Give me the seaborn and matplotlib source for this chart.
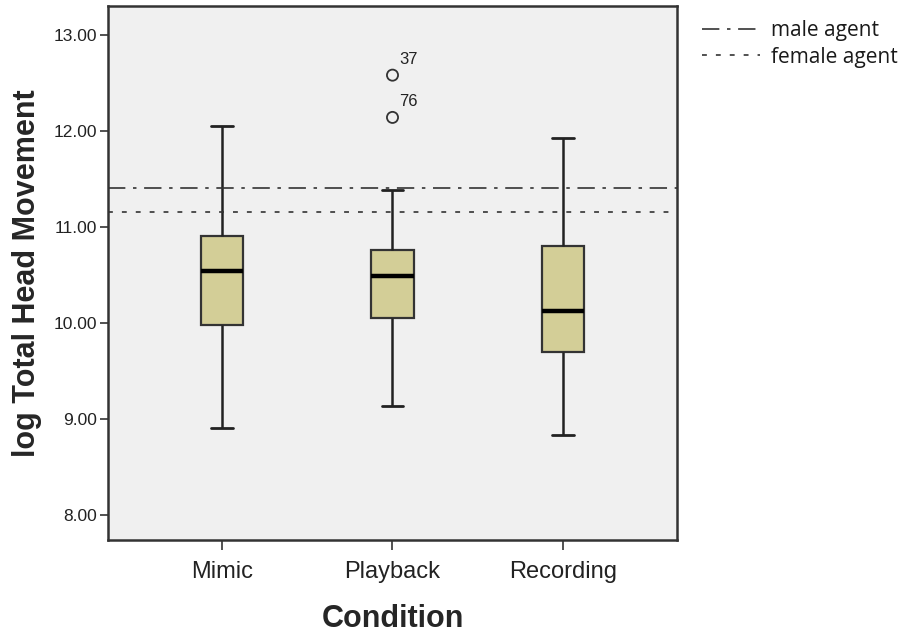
import matplotlib
matplotlib.use("Agg")
import matplotlib.pyplot as plt
import seaborn as sns
import pandas as pd

# ---- data ----
conditions = ["Mimic", "Playback", "Recording"]
# five-number summaries: whisker low, Q1, median, Q3, whisker high
mimic_stats = [8.91, 9.98, 10.54, 10.91, 12.05]
playback_stats = [9.13, 10.05, 10.49, 10.76, 11.38]
recording_stats = [8.83, 9.70, 10.12, 10.80, 11.93]
outlier_condition = ["Playback", "Playback"]
outlier_values = [12.58, 12.14]
outlier_ids = ["37", "76"]
male_agent = 11.40
female_agent = 11.15
y_ticks = [8.0, 9.0, 10.0, 11.0, 12.0, 13.0]

sns.set_style("white")
plt.rcParams["font.family"] = ["Liberation Sans", "DejaVu Sans"]
plt.rcParams["lines.scale_dashes"] = False

df = pd.DataFrame({
    "Condition": ["Mimic"] * 5 + ["Playback"] * 5 + ["Recording"] * 5,
    "value": mimic_stats + playback_stats + recording_stats,
})

fig = plt.figure(figsize=(9.04, 6.35), dpi=100)
ax = fig.add_axes([108 / 904, 95 / 635, 569 / 904, 534 / 635])
ax.set_facecolor("#F0F0F0")

dark = "#333333"
sns.boxplot(data=df, x="Condition", y="value", order=conditions, ax=ax,
            width=0.25, color="#D3CE97", linecolor=dark, linewidth=1.6,
            saturation=1, whis=1.5, showfliers=False,
            boxprops=dict(edgecolor=dark),
            medianprops=dict(color="black", linewidth=3.2),
            whiskerprops=dict(color="#222222", linewidth=1.8),
            capprops=dict(color="#222222", linewidth=2))

sns.stripplot(x=outlier_condition, y=outlier_values, order=conditions, ax=ax,
              jitter=False, size=8, marker="o", color="none",
              edgecolor=dark, linewidth=1.3)
for coll in ax.collections:
    coll.set_facecolor("none")
    coll.set_edgecolor(dark)

pos = {c: i for i, c in enumerate(conditions)}
for c, v, lab in zip(outlier_condition, outlier_values, outlier_ids):
    ax.annotate(lab, (pos[c], v), xytext=(5, 6), textcoords="offset points",
                fontsize=12, color="#222222", ha="left", va="bottom")

l1 = ax.axhline(male_agent, color=dark, linewidth=1.2,
                linestyle=(0, (12.5, 5.5, 2.5, 5.5)), label="male agent")
l2 = ax.axhline(female_agent, color=dark, linewidth=1.2,
                linestyle=(0, (3.5, 6.5)), label="female agent")

ax.set_xlim(-0.669, 2.669)
ax.set_ylim(7.74, 13.30)
ax.set_yticks(y_ticks)
ax.set_yticklabels([f"{t:.2f}" for t in y_ticks])
ax.tick_params(axis="y", labelsize=12.5, length=6, width=1.2, color=dark,
               left=True, pad=2, labelcolor="#222222")
ax.tick_params(axis="x", labelsize=17, length=7, width=1.2, color=dark,
               bottom=True, pad=8, labelcolor="#222222")
for s in ax.spines.values():
    s.set_color(dark)
    s.set_linewidth(1.8)
    s.set_visible(True)

ax.set_xlabel("Condition", fontsize=22, fontweight="bold", labelpad=15)
ax.set_ylabel("log Total Head Movement", fontsize=22, fontweight="bold", labelpad=8)

leg = fig.legend(handles=[l1, l2], loc="upper left",
                 bbox_to_anchor=(694 / 904, 1 - 12 / 635),
                 frameon=False, handlelength=2.75, handletextpad=0.55,
                 labelspacing=0.25, borderaxespad=0,
                 prop={"family": "Open Sans", "size": 15, "weight": 500})
for t in leg.get_texts():
    t.set_color("#1a1a1a")

fig.savefig("out.png", dpi=100)
